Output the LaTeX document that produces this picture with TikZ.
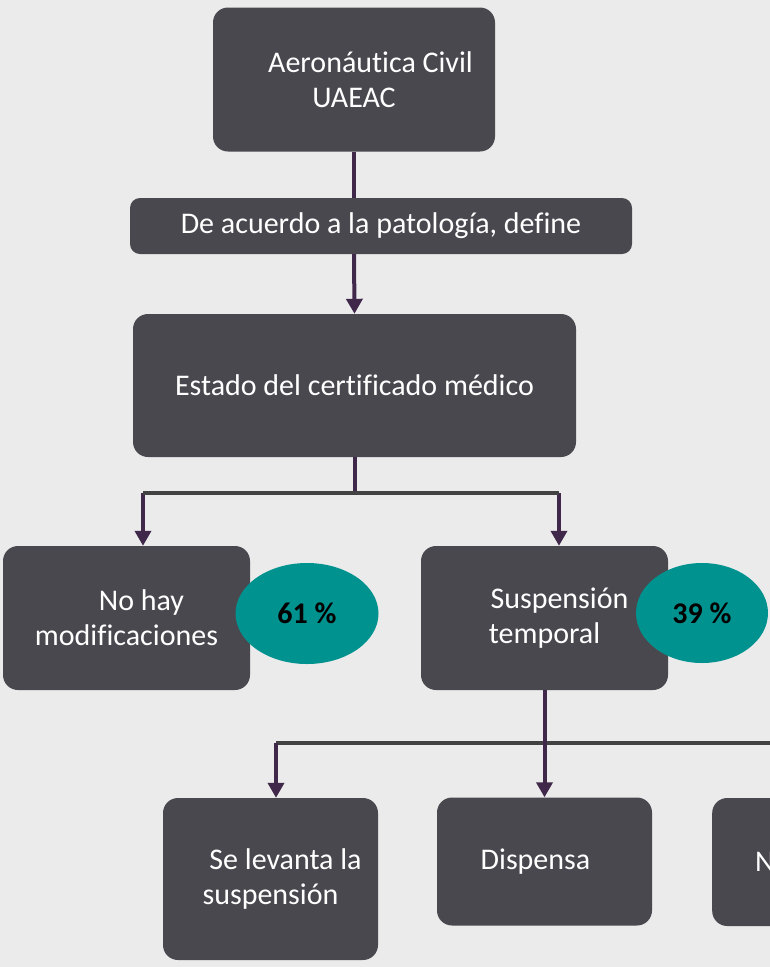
\documentclass[tikz,border=0pt]{standalone}
\usepackage{fontspec}
\setmainfont{Carlito}[Ligatures=NoCommon]
\usetikzlibrary{arrows.meta,shapes.geometric}

\definecolor{papel}{HTML}{EBEBEB}
\definecolor{gris}{HTML}{4A484F}
\definecolor{morado}{HTML}{40284A}
\definecolor{barragris}{HTML}{424242}
\definecolor{verde}{HTML}{00928F}

\tikzset{
  caja/.style={draw=none, fill=gris, rounded corners=15pt, text=white,
    align=center, inner sep=0pt, font=\fontsize{30}{35}\selectfont},
  pct/.style={ellipse, fill=verde, text=black, inner sep=0pt,
    font=\fontsize{30}{35}\selectfont\bfseries},
  tallo/.style={draw=morado, line width=4pt},
  flecha/.style={draw=morado, line width=4pt,
    -{Triangle[width=16pt,length=15pt]}},
  barra/.style={draw=barragris, line width=4pt}
}

\begin{document}
\begin{tikzpicture}[x=1pt,y=-1pt]
    \fill[papel, use as bounding box] (0,0) rectangle (770,967);
    \clip (0,0) rectangle (770,967);
    % cajas
    \node[caja, minimum width=282, minimum height=144] (aero) at (354,79.5)
      {\hspace*{1.1em}Aeronáutica Civil\\UAEAC};
    \node[caja, rounded corners=10pt, minimum width=502, minimum height=56] (pato) at (381,226)
      {De acuerdo a la patología, define};
    \node[caja, minimum width=443, minimum height=143] (estado) at (354.5,385.5)
      {Estado del certificado médico};
    \node[caja, minimum width=247, minimum height=144] (nohay) at (126.5,618)
      {\hspace*{1em}No hay\\modificaciones};
    \node[caja, minimum width=247, minimum height=144] (susp) at (544.5,618)
      {\hspace*{1em}Suspensión\\temporal};
    \node[caja, minimum width=215, minimum height=162] (levanta) at (270.5,879)
      {\hspace*{1em}Se levanta la\\suspensión};
    \node[caja, minimum width=215, minimum height=128] (dispensa) at (544.5,861.5)
      {Dispensa\hspace*{0.6em}};
    \node[caja, minimum width=215, minimum height=128, anchor=west] (otra) at (712,862) {};
    \node[caja, fill=none, anchor=west] (otratxt) at (755,862) {N};
    % porcentajes
    \node[pct, minimum width=143, minimum height=101] (p61) at (307,613.5) {61 \%};
    \node[pct, minimum width=132, minimum height=100] (p39) at (702,613) {39 \%};
    % conectores
    \coordinate (bl) at (143,493);
    \coordinate (bm) at (354.5,493);
    \coordinate (br) at (559,493);
    \coordinate (cl) at (276,743);
    \coordinate (cr) at (775,743);
    \draw[tallo] (aero.south) -- (aero.south |- pato.north);
    \draw[flecha] (aero.south |- pato.south) -- (estado.north);
    \draw[tallo] (estado.south) -- (bm);
    \draw[flecha] (bl) -- (bl |- nohay.north);
    \draw[flecha] (br) -- (br |- susp.north);
    \draw[barra] (bl) -- (br);
    \draw[barra] (cl) -- (cr);
    \draw[flecha] (cl) -- (cl |- levanta.north);
    \draw[flecha] (susp.south) -- (dispensa.north);
  \end{tikzpicture}
\end{document}
